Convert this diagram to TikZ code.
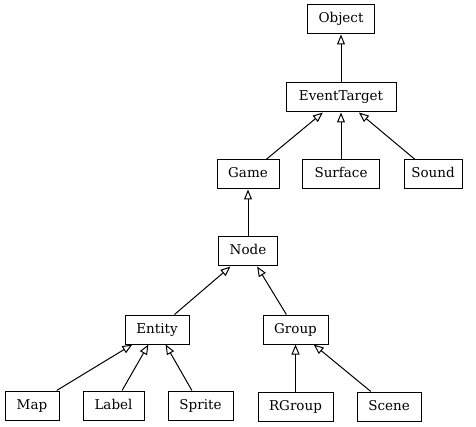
\documentclass[tikz,border=0pt]{standalone}
\usepackage{fontspec}
\setmainfont{DejaVu Serif}
\usetikzlibrary{arrows.meta}
\tikzset{
    cls/.style={
        rectangle,
        draw=black,
        line width=1pt,
        minimum height=29pt,
        inner sep=0pt,
        text height=10pt,
        text depth=3pt,
        fill=white,
        font=\fontsize{13.5}{15}\selectfont
    },
    inherit/.style={
        draw=black,
        line width=1pt,
        -{Triangle[open, length=10pt, width=8pt]}
    }
}
\begin{document}
\begin{tikzpicture}[x=1pt, y=-1pt]
\useasboundingbox (0,0) rectangle (476,427);

% Top of the tree
\node[cls, minimum width=67pt] (object) at (341,19.5) {Object};
\node[cls, minimum width=110pt] (eventtarget) at (341,97.5) {EventTarget};

% Second row
\node[cls, minimum width=62pt] (game) at (248,174.5) {Game};
\node[cls, minimum width=77pt] (surface) at (341,174.5) {Surface};
\node[cls, minimum width=58pt] (sound) at (433,174.5) {Sound};

\node[cls, minimum width=59pt] (node) at (248,251.5) {Node};

% Entity and Group
\node[cls, minimum width=64pt] (entity) at (157,329.5) {Entity};
\node[cls, minimum width=65pt] (group) at (295.5,329.5) {Group};

% Leaves
\node[cls, minimum width=54pt] (map) at (32,405.5) {Map};
\node[cls, minimum width=61pt] (label) at (113.5,405.5) {Label};
\node[cls, minimum width=65pt] (sprite) at (200.5,405.5) {Sprite};
\node[cls, minimum width=75pt] (rgroup) at (295.5,406.5) {RGroup};
\node[cls, minimum width=64pt] (scene) at (389,406.5) {Scene};

% Inheritance
\draw[inherit] (eventtarget) -- (object);
\draw[inherit] (game) -- (eventtarget);
\draw[inherit] (surface) -- (eventtarget);
\draw[inherit] (sound) -- (eventtarget);
\draw[inherit] (node) -- (game);
\draw[inherit] (entity) -- (node);
\draw[inherit] (group) -- (node);
\draw[inherit] (map) -- (entity);
\draw[inherit] (label) -- (entity);
\draw[inherit] (sprite) -- (entity);
\draw[inherit] (rgroup) -- (group);
\draw[inherit] (scene) -- (group);

\end{tikzpicture}
\end{document}
